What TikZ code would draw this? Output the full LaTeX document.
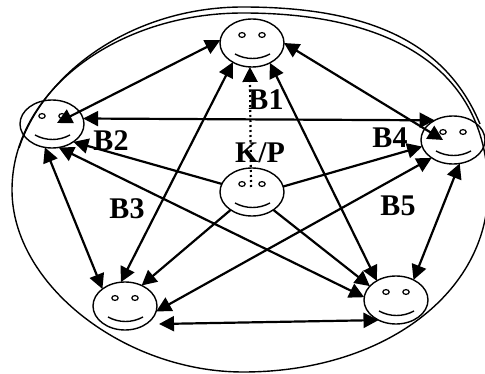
\documentclass[tikz,border=0pt]{standalone}
\usepackage{fontspec}
\setmainfont{Liberation Serif}
\usetikzlibrary{arrows.meta,shapes.geometric}
\tikzset{
  x=1pt,y=-1pt,
  faceshape/.style={ellipse,draw,line width=1.4pt,minimum width=64pt,minimum height=48pt,inner sep=0pt,outer sep=0pt},
  eye/.style={draw,line width=1.2pt},
  mouth/.style={draw,line width=1.4pt},
  headtip/.tip={Triangle[length=15pt,width=15pt]},
  link/.style={line width=2.2pt,headtip-headtip},
  linkto/.style={line width=2.2pt,-headtip},
  dottedlink/.style={line width=2.2pt,dash pattern=on 2pt off 3pt,-headtip},
  hall/.style={draw,line width=1.4pt},
  lab/.style={font=\bfseries\fontsize{30}{30}\selectfont,inner sep=0pt},
}
\newcommand{\smiley}[3]{%
  \node[faceshape] (#1) at (#2,#3) {};
  \draw[eye] (#2-10,#3-8) ellipse [x radius=3.2pt,y radius=2.4pt];
  \draw[eye] (#2+10,#3-8) ellipse [x radius=3.2pt,y radius=2.4pt];
  \draw[mouth] (#2-17,#3+11) .. controls (#2-6,#3+17) and (#2+7,#3+17) .. (#2+18,#3+11);
}
\begin{document}
\begin{tikzpicture}
\useasboundingbox (0,0) rectangle (485,374);
\fill[white] (0,0) rectangle (485,374);
% hall
\draw[hall] (12,190) .. controls (12,92) and (116,13) .. (243,13)
  .. controls (400,13) and (488,75) .. (488,190)
  .. controls (488,292) and (385,372) .. (243,372)
  .. controls (125,372) and (12,285) .. (12,190) -- cycle;
\draw[hall] (19,148) .. controls (45,70) and (135,7) .. (243,7)
  .. controls (365,7) and (445,40) .. (480,124);
% faces
\smiley{top}{252}{43}
\smiley{left}{52}{124}
\smiley{right}{453}{140}
\smiley{bl}{125}{306}
\smiley{br}{396}{300}
\smiley{mid}{252}{192}
% free ends
\coordinate (leftin) at (57,123);
\coordinate (rightin) at (443,140);
\coordinate (blout) at (159,324);
\coordinate (midin) at (251,187);
% ring and star
\draw[link] (leftin) -- (top.175);
\draw[link] (left.10) -- (right.133);
\draw[link] (top.0) -- (rightin);
\draw[link] (top.225) -- (bl.100);
\draw[link] (top.-48) -- (br.135);
\draw[link] (left.-107) -- (bl.143);
\draw[link] (left.-74) -- (br.175);
\draw[link] (bl.-10) -- (right.220);
\draw[link] (br.49) -- (right.-74);
\draw[link] (blout) -- (br.229);
% from the centre
\draw[linkto] (mid.165) -- (left.-40);
\draw[linkto] (mid.220) -- (bl.51);
\draw[linkto] (mid.-40) -- (br.152);
\draw[linkto] (mid.10) -- (right.192);
\draw[dottedlink] (midin) -- (top.-95);
% labels
\node[lab] (b1) at (266,100) {B1};
\node[lab] (b2) at (111,141) {B2};
\node[lab] (b3) at (127,209) {B3};
\node[lab] (b4) at (390,138) {B4};
\node[lab] (b5) at (398,206) {B5};
\node[lab] (kp) at (260,153) {K/P};
\end{tikzpicture}
\end{document}
